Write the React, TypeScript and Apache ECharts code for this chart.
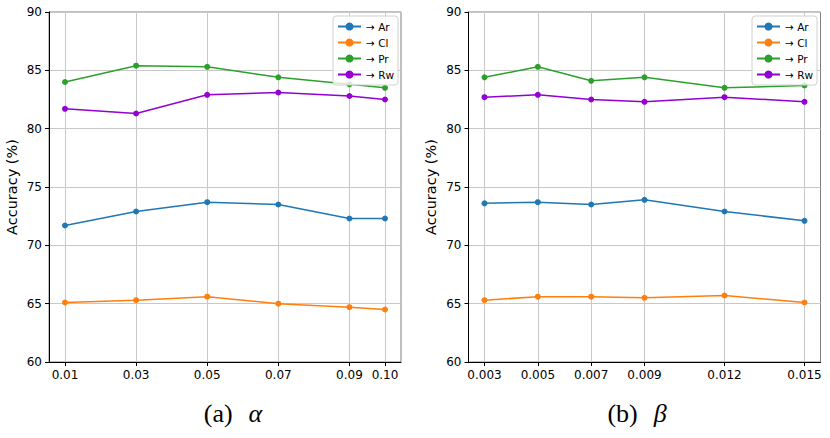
import React, { useEffect, useRef } from "react";
import * as echarts from "echarts";

const alphaValues = [0.01, 0.03, 0.05, 0.07, 0.09, 0.1];
const alphaLabels = ["0.01", "0.03", "0.05", "0.07", "0.09", "0.10"];
const betaValues = [0.003, 0.005, 0.007, 0.009, 0.012, 0.015];
const betaLabels = ["0.003", "0.005", "0.007", "0.009", "0.012", "0.015"];

const seriesNames = ["→ Ar", "→ Cl", "→ Pr", "→ Rw"];
const seriesColors = ["#1f77b4", "#ff7f0e", "#2ca02c", "#9400d3"];

const alphaAr = [71.7, 72.9, 73.7, 73.5, 72.3, 72.3];
const alphaCl = [65.1, 65.3, 65.6, 65.0, 64.7, 64.5];
const alphaPr = [84.0, 85.4, 85.3, 84.4, 83.8, 83.5];
const alphaRw = [81.7, 81.3, 82.9, 83.1, 82.8, 82.5];

const betaAr = [73.6, 73.7, 73.5, 73.9, 72.9, 72.1];
const betaCl = [65.3, 65.6, 65.6, 65.5, 65.7, 65.1];
const betaPr = [84.4, 85.3, 84.1, 84.4, 83.5, 83.7];
const betaRw = [82.7, 82.9, 82.5, 82.3, 82.7, 82.3];

const yMin = 60;
const yMax = 90;
const yStep = 5;
const yLabel = "Accuracy (%)";
const captionA = ["(a)", "α"];
const captionB = ["(b)", "β"];

const SANS = "DejaVu Sans";
const SERIF = "Liberation Serif";

function pad(values: number[]) {
  const span = values[values.length - 1] - values[0];
  return [values[0] - span * 0.05, values[values.length - 1] + span * 0.05];
}

function makeFormatter(values: number[], labels: string[]) {
  return (v: number) => {
    const i = values.findIndex((x) => Math.abs(x - v) < 1e-9);
    return i >= 0 ? labels[i] : "";
  };
}

export default function App() {
  const ref = useRef<HTMLDivElement>(null);

  useEffect(() => {
    if (!ref.current) return;
    const chart = echarts.init(ref.current, undefined, { renderer: "svg" });

    const grids = [
      { left: 49, top: 12, width: 352, height: 350 },
      { left: 468.5, top: 12, width: 352, height: 350 },
    ];

    const xAxisFor = (idx: number, values: number[], labels: string[]) => {
      const [mn, mx] = pad(values);
      return {
        type: "value",
        gridIndex: idx,
        min: mn,
        max: mx,
        axisLine: { show: true, onZero: false, lineStyle: { color: "#000", width: 1 } },
        axisTick: { show: true, inside: false, length: 4, customValues: values, lineStyle: { color: "#000" } },
        axisLabel: {
          show: true,
          customValues: values,
          formatter: makeFormatter(values, labels),
          margin: 7,
          color: "#000",
          fontSize: 12,
          fontFamily: SANS,
        },
        splitLine: { show: true, lineStyle: { color: "#c8c8c8", width: 1 } },
      };
    };

    const yAxisFor = (idx: number) => ({
      type: "value",
      gridIndex: idx,
      min: yMin,
      max: yMax,
      interval: yStep,
      name: yLabel,
      nameLocation: "middle",
      nameGap: 30,
      nameTextStyle: { fontSize: 14.5, fontFamily: SANS, color: "#000" },
      axisLine: { show: true, lineStyle: { color: "#000", width: 1 } },
      axisTick: { show: true, inside: false, length: 4, lineStyle: { color: "#000" } },
      axisLabel: { margin: 7, color: "#000", fontSize: 12, fontFamily: SANS },
      splitLine: { show: true, lineStyle: { color: "#c8c8c8", width: 1 } },
    });

    const makeSeries = (idx: number, xs: number[], ys: number[][]) =>
      ys.map((vals, k) => ({
        type: "line",
        name: seriesNames[k],
        xAxisIndex: idx,
        yAxisIndex: idx,
        data: vals.map((v, j) => [xs[j], v]),
        symbol: "circle",
        symbolSize: 6,
        color: seriesColors[k],
        lineStyle: { width: 1.5, color: seriesColors[k] },
        itemStyle: { color: seriesColors[k] },
        z: 3,
      }));

    const legendFor = (left: number) => ({
      orient: "vertical",
      left,
      top: 16,
      data: seriesNames,
      padding: [5, 4, 5, 4],
      itemWidth: 23,
      itemHeight: 10,
      itemGap: 5,
      backgroundColor: "rgba(255,255,255,0.8)",
      borderColor: "#d0d0d0",
      borderWidth: 1,
      borderRadius: 3,
      textStyle: { fontSize: 10.5, fontFamily: SANS, color: "#000" },
      selectedMode: false,
    });

    const captionText = (x: number, parts: string[]) => ({
      type: "text",
      x,
      y: 413,
      style: {
        text: `{n|${parts[0]}}{g|${parts[1]}}`,
        fontFamily: SERIF,
        fontSize: 26,
        align: "center",
        verticalAlign: "middle",
        rich: {
          n: { fontFamily: SERIF, fontSize: 26, fill: "#000" },
          g: { fontFamily: SERIF, fontSize: 26, fontStyle: "italic", fill: "#000", padding: [0, 0, 0, 16] },
        },
      },
    });

    chart.setOption({
      animation: false,
      backgroundColor: "#fff",
      grid: grids.map((g) => ({ ...g, show: true, borderColor: "#808080", borderWidth: 1, backgroundColor: "transparent" })),
      xAxis: [xAxisFor(0, alphaValues, alphaLabels), xAxisFor(1, betaValues, betaLabels)],
      yAxis: [yAxisFor(0), yAxisFor(1)],
      legend: [legendFor(333), legendFor(752)],
      series: [
        ...makeSeries(0, alphaValues, [alphaAr, alphaCl, alphaPr, alphaRw]),
        ...makeSeries(1, betaValues, [betaAr, betaCl, betaPr, betaRw]),
      ],
      graphic: [captionText(233, captionA), captionText(637, captionB)],
    });

    return () => chart.dispose();
  }, []);

  return (
    <div
      ref={ref}
      style={{ position: "absolute", left: 0, top: 0, width: 830, height: 438 }}
    />
  );
}
